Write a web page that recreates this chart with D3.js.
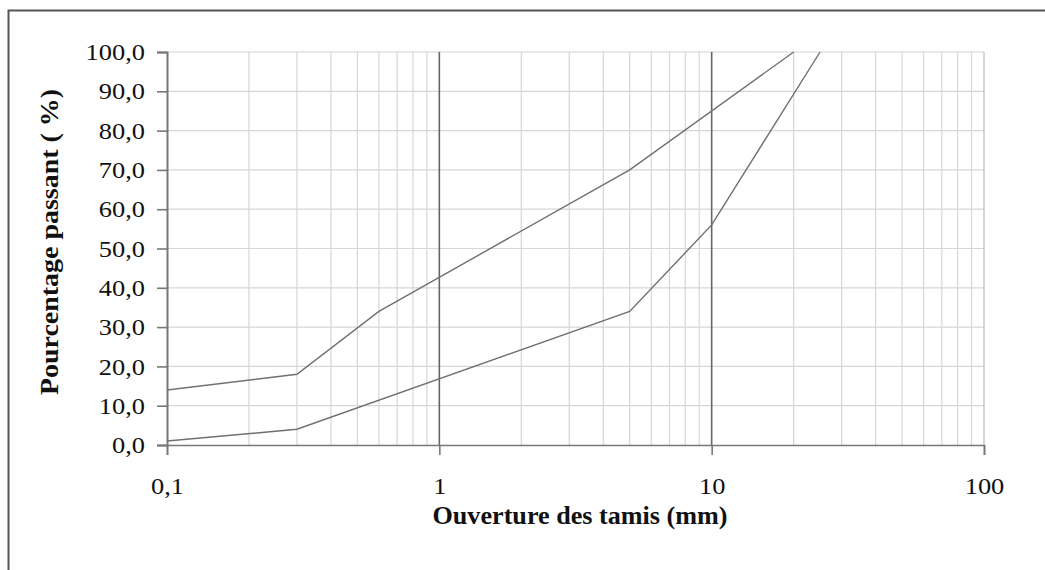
<!DOCTYPE html>
<html>
<head>
<meta charset="UTF-8" />
<title>Courbes granulometriques</title>
<script src="https://d3js.org/d3.v7.min.js"></script>
<style>
  body { margin: 0; background: #fff; }
  text { font-family: "Liberation Serif", "Times New Roman", serif; fill: #111; }
  .tick-label { font-size: 24px; }
  .title { font-size: 25px; font-weight: bold; }
</style>
</head>
<body>
<div id="plot"></div>
<script>
// sieve openings (mm) and passing percentages
var upperSieves = [0.1, 0.3, 0.6, 5, 20];
var upperPassing = [14, 18, 34, 70, 100];

var lowerSieves = [0.1, 0.3, 5, 10, 25];
var lowerPassing = [1, 4, 34, 56, 100];

var xTickValues = [0.1, 1, 10, 100];
var xTickLabels = ["0,1", "1", "10", "100"];
var yTickValues = [0, 10, 20, 30, 40, 50, 60, 70, 80, 90, 100];

var W = 1045, H = 570;
var margin = {top: 52, right: 61, bottom: 125, left: 167};

var svg = d3.select("#plot").append("svg")
  .attr("width", W)
  .attr("height", H);

// outer frame (right and bottom edges fall outside the picture)
svg.append("rect")
  .attr("x", 8.5).attr("y", 10.5)
  .attr("width", W + 20).attr("height", H + 20)
  .attr("fill", "none")
  .attr("stroke", "#555")
  .attr("stroke-width", 2);

var x = d3.scaleLog().domain([0.1, 100]).range([margin.left, W - margin.right]);
var y = d3.scaleLinear().domain([0, 100]).range([H - margin.bottom, margin.top]);

var g = svg.append("g");

// minor vertical grid (2..9 of each decade)
var minor = [];
[0.1, 1, 10].forEach(function(d) {
  for (var k = 2; k <= 9; k++) minor.push(d * k);
});
g.selectAll(".vminor")
  .data(minor).enter().append("line")
  .attr("x1", function(d) { return x(d); })
  .attr("x2", function(d) { return x(d); })
  .attr("y1", y(0)).attr("y2", y(100))
  .attr("stroke", "#d6d6d6")
  .attr("stroke-width", 1.2);

// horizontal grid
g.selectAll(".hgrid")
  .data(yTickValues.slice(1)).enter().append("line")
  .attr("x1", x(0.1)).attr("x2", x(100))
  .attr("y1", function(d) { return y(d); })
  .attr("y2", function(d) { return y(d); })
  .attr("stroke", "#d6d6d6")
  .attr("stroke-width", 1.2);

// right edge at 100
g.append("line")
  .attr("x1", x(100)).attr("x2", x(100))
  .attr("y1", y(0)).attr("y2", y(100))
  .attr("stroke", "#bdbdbd").attr("stroke-width", 1.2);

// major vertical grid at 1 and 10
g.selectAll(".vmajor")
  .data([1, 10]).enter().append("line")
  .attr("x1", function(d) { return x(d); })
  .attr("x2", function(d) { return x(d); })
  .attr("y1", y(0)).attr("y2", y(100))
  .attr("stroke", "#666")
  .attr("stroke-width", 1.6);

// axes
var xAxis = d3.axisBottom(x)
  .tickValues(xTickValues)
  .tickFormat(function(d, i) { return xTickLabels[i]; })
  .tickSize(10)
  .tickPadding(22);

var yAxis = d3.axisLeft(y)
  .tickValues(yTickValues)
  .tickFormat(function(d) { return d3.format(".1f")(d).replace(".", ","); })
  .tickSize(10)
  .tickPadding(12);

// the scanned labels look a little wider than the font
function widen(sel) {
  sel.each(function() {
    var w = this.getComputedTextLength();
    d3.select(this).attr("textLength", w * 1.1).attr("lengthAdjust", "spacingAndGlyphs");
  });
}

var gx = svg.append("g")
  .attr("transform", "translate(0," + y(0) + ")")
  .call(xAxis);
gx.select(".domain").attr("stroke", "#777").attr("stroke-width", 1.6);
gx.selectAll(".tick line").attr("stroke", "#777").attr("stroke-width", 1.6);
gx.selectAll(".tick text").attr("class", "tick-label").attr("font-family", null).attr("font-size", null)
  .call(widen);

var gy = svg.append("g")
  .attr("transform", "translate(" + x(0.1) + ",0)")
  .call(yAxis);
gy.select(".domain").attr("stroke", "#777").attr("stroke-width", 2);
gy.selectAll(".tick line").attr("stroke", "#777").attr("stroke-width", 1.6);
gy.selectAll(".tick text").attr("class", "tick-label").attr("font-family", null).attr("font-size", null)
  .call(widen);

// curves
var line = d3.line()
  .x(function(d) { return x(d[0]); })
  .y(function(d) { return y(d[1]); });

[[upperSieves, upperPassing], [lowerSieves, lowerPassing]].forEach(function(s) {
  svg.append("path")
    .datum(d3.zip(s[0], s[1]))
    .attr("fill", "none")
    .attr("stroke", "#707070")
    .attr("stroke-width", 1.4)
    .attr("d", line);
});

// axis titles
svg.append("text")
  .attr("class", "title")
  .attr("x", 580)
  .attr("y", 524)
  .attr("text-anchor", "middle")
  .attr("textLength", 295)
  .attr("lengthAdjust", "spacingAndGlyphs")
  .text("Ouverture des tamis (mm)");

svg.append("text")
  .attr("class", "title")
  .attr("transform", "translate(58,242) rotate(-90)")
  .attr("text-anchor", "middle")
  .attr("textLength", 306)
  .attr("lengthAdjust", "spacingAndGlyphs")
  .text("Pourcentage passant ( %)");
</script>
</body>
</html>
